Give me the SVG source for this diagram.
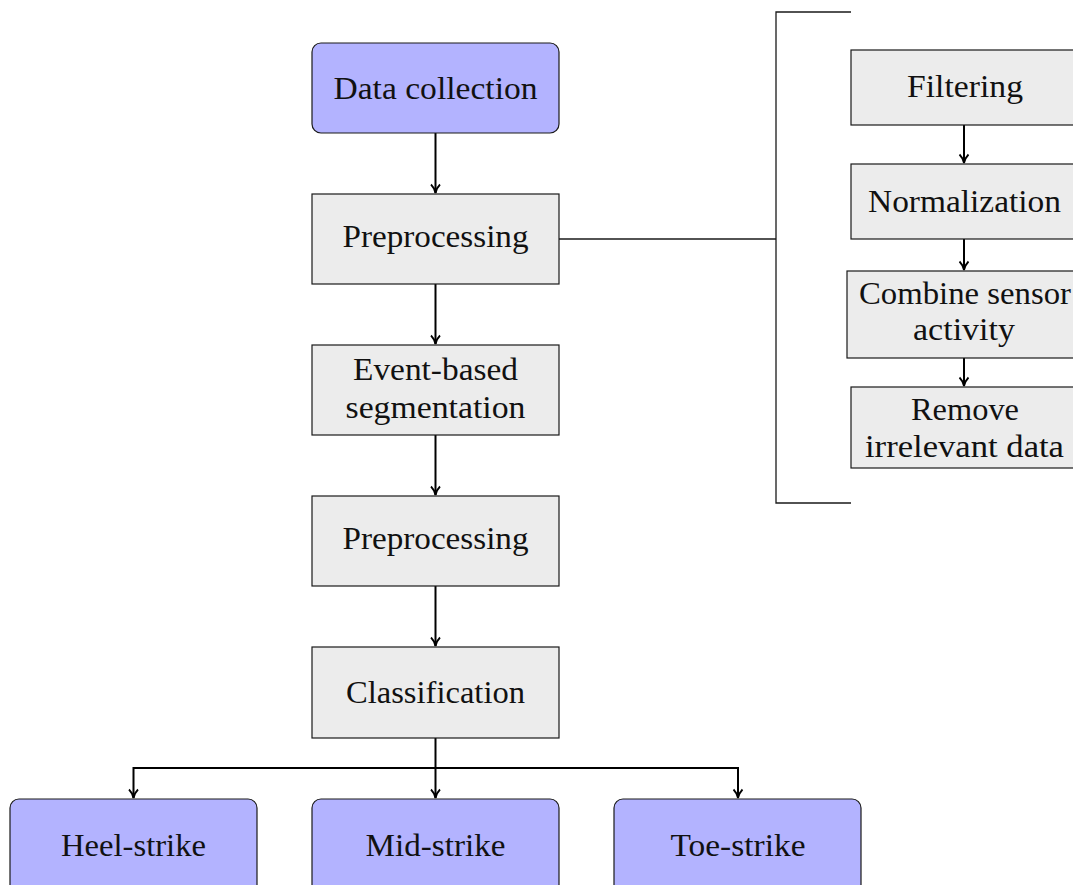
<svg xmlns="http://www.w3.org/2000/svg" width="1073" height="885" viewBox="0 0 1073 885">
<style>
.blue{fill:#b3b3ff;stroke:#1a1a1a;stroke-width:1.2}
.gray{fill:#ececec;stroke:#1a1a1a;stroke-width:1.2}
text{font-family:"Liberation Serif","DejaVu Serif",serif;font-size:31px;fill:#111;text-anchor:middle}
.ln{fill:none;stroke:#000;stroke-width:2}
.br{fill:none;stroke:#1a1a1a;stroke-width:1.3}
</style>
<defs>
<marker id="ah" markerWidth="12" markerHeight="12" refX="10" refY="6" orient="auto" markerUnits="userSpaceOnUse">
<path d="M1.5,1.5 Q5,5 10,6 Q5,7 1.5,10.5" fill="none" stroke="#000" stroke-width="1.8"/>
</marker>
</defs>
<g id="connectors">
<path class="ln" d="M435.5,133 V193" marker-end="url(#ah)"/>
<path class="ln" d="M435.5,284 V344" marker-end="url(#ah)"/>
<path class="ln" d="M435.5,435 V495" marker-end="url(#ah)"/>
<path class="ln" d="M435.5,586 V646" marker-end="url(#ah)"/>
<path class="ln" d="M435.5,738 V798" marker-end="url(#ah)"/>
<path class="ln" d="M435.5,768 H133.5 V798" marker-end="url(#ah)"/>
<path class="ln" d="M435.5,768 H738 V798" marker-end="url(#ah)"/>
<path class="ln" d="M964,125 V163" marker-end="url(#ah)"/>
<path class="ln" d="M964,239 V270" marker-end="url(#ah)"/>
<path class="ln" d="M964,358 V386" marker-end="url(#ah)"/>
<path class="br" d="M559,239 H776"/>
<path class="br" d="M851,12 H776 V503 H851"/>
</g>
<g id="data-collection"><rect class="blue" x="312" y="43" width="247" height="90" rx="9"/><text x="435.5" y="99" textLength="204" lengthAdjust="spacingAndGlyphs">Data collection</text></g>
<g id="preprocessing-1"><rect class="gray" x="312" y="194" width="247" height="90"/><text x="435.5" y="247" textLength="186" lengthAdjust="spacingAndGlyphs">Preprocessing</text></g>
<g id="segmentation"><rect class="gray" x="312" y="345" width="247" height="90"/><text x="435.5" y="380" textLength="165" lengthAdjust="spacingAndGlyphs">Event-based</text><text x="435.5" y="418" textLength="180" lengthAdjust="spacingAndGlyphs">segmentation</text></g>
<g id="preprocessing-2"><rect class="gray" x="312" y="496" width="247" height="90"/><text x="435.5" y="549" textLength="186" lengthAdjust="spacingAndGlyphs">Preprocessing</text></g>
<g id="classification"><rect class="gray" x="312" y="647" width="247" height="91"/><text x="435.5" y="703" textLength="179" lengthAdjust="spacingAndGlyphs">Classification</text></g>
<g id="heel-strike"><rect class="blue" x="10" y="799" width="247" height="100" rx="9"/><text x="133.5" y="856" textLength="145" lengthAdjust="spacingAndGlyphs">Heel-strike</text></g>
<g id="mid-strike"><rect class="blue" x="312" y="799" width="247" height="100" rx="9"/><text x="435.5" y="856" textLength="140" lengthAdjust="spacingAndGlyphs">Mid-strike</text></g>
<g id="toe-strike"><rect class="blue" x="614" y="799" width="247" height="100" rx="9"/><text x="738" y="856" textLength="135" lengthAdjust="spacingAndGlyphs">Toe-strike</text></g>
<g id="filtering"><rect class="gray" x="851" y="50" width="230" height="75"/><text x="965" y="97" textLength="116" lengthAdjust="spacingAndGlyphs">Filtering</text></g>
<g id="normalization"><rect class="gray" x="851" y="164" width="230" height="75"/><text x="964.5" y="212" textLength="193" lengthAdjust="spacingAndGlyphs">Normalization</text></g>
<g id="combine"><rect class="gray" x="847" y="271" width="234" height="87"/><text x="965" y="304" textLength="212" lengthAdjust="spacingAndGlyphs">Combine sensor</text><text x="964" y="340" textLength="102" lengthAdjust="spacingAndGlyphs">activity</text></g>
<g id="remove"><rect class="gray" x="851" y="387" width="230" height="81"/><text x="965" y="420" textLength="108" lengthAdjust="spacingAndGlyphs">Remove</text><text x="964.5" y="457" textLength="199" lengthAdjust="spacingAndGlyphs">irrelevant data</text></g>
</svg>
